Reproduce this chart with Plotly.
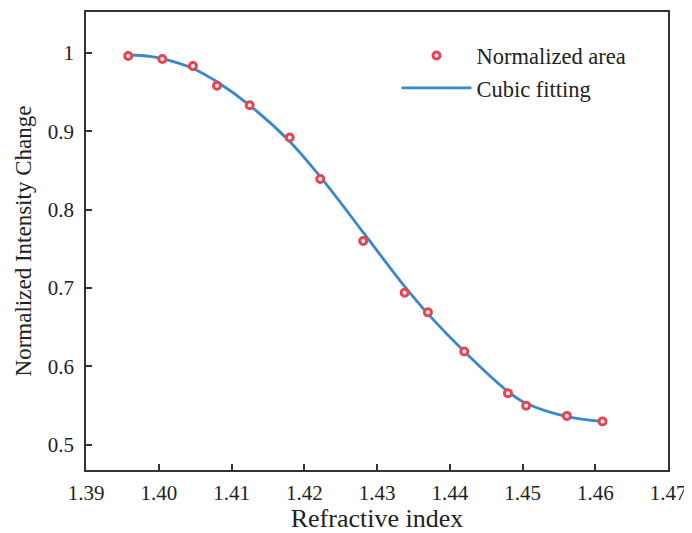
import plotly.graph_objects as go

refractive_index = [1.3958, 1.4005, 1.4047, 1.4080, 1.4125, 1.4180, 1.4222, 1.4281,
                    1.4338, 1.4370, 1.4420, 1.4480, 1.4505, 1.4561, 1.4610]
normalized_area = [0.996, 0.992, 0.983, 0.958, 0.933, 0.892, 0.839, 0.760,
                   0.694, 0.669, 0.619, 0.566, 0.550, 0.537, 0.530]

# Cubic fitting curve
fit_x = [1.3958, 1.3988, 1.4005, 1.4047, 1.4080, 1.4125, 1.4180, 1.4222, 1.4281,
         1.4338, 1.4370, 1.4420, 1.4480, 1.4505, 1.4561, 1.4610]
fit_y = [0.9975, 0.9955, 0.9925, 0.980, 0.963, 0.933, 0.887, 0.842, 0.771,
         0.702, 0.667, 0.619, 0.568, 0.553, 0.536, 0.530]

x_ticks = [1.39, 1.40, 1.41, 1.42, 1.43, 1.44, 1.45, 1.46, 1.47]
y_ticks = [0.5, 0.6, 0.7, 0.8, 0.9, 1.0]
y_ticktext = ["0.5", "0.6", "0.7", "0.8", "0.9", "1"]

FONT = "Liberation Serif"
AX = "#333333"

fig = go.Figure()
fig.add_trace(go.Scatter(
    x=fit_x, y=fit_y, mode="lines", name="Cubic fitting",
    line=dict(color="#3A88CC", width=2.8, shape="spline", smoothing=1.0),
))
fig.add_trace(go.Scatter(
    x=refractive_index, y=normalized_area, mode="markers", name="Normalized area",
    marker=dict(symbol="circle", size=7, color="white",
                line=dict(color="#E8444F", width=3)),
))

axis_common = dict(
    showline=True, mirror=True, linecolor=AX, linewidth=1.5,
    ticks="inside", ticklen=6, tickwidth=1.5, tickcolor=AX,
    showgrid=False, zeroline=False, automargin=False,
    tickfont=dict(family=FONT, size=21, color="#222222"),
)

# page body has an 8px margin, so the figure is sized/offset to compensate
fig.update_layout(
    width=684, height=525,
    margin=dict(l=78, r=24, t=4, b=63),
    paper_bgcolor="white", plot_bgcolor="white",
    font=dict(family=FONT, color="#222222"),
    xaxis=dict(range=[1.39, 1.47], tickvals=x_ticks, tickformat=".2f",
               ticklabelstandoff=3,
               title=dict(text="Refractive index", font=dict(family=FONT, size=26), standoff=6),
               **axis_common),
    yaxis=dict(range=[0.468, 1.052], tickvals=y_ticks, ticktext=y_ticktext,
               ticklabelstandoff=6,
               title=dict(text="Normalized Intensity Change", font=dict(family=FONT, size=23), standoff=10),
               **axis_common),
    legend=dict(x=0.5335, y=0.951, xanchor="left", yanchor="top",
                traceorder="reversed", bgcolor="rgba(0,0,0,0)",
                font=dict(family=FONT, size=22.5, color="#222222"),
                itemwidth=70),
    showlegend=True,
)

fig.write_html("out.html")
